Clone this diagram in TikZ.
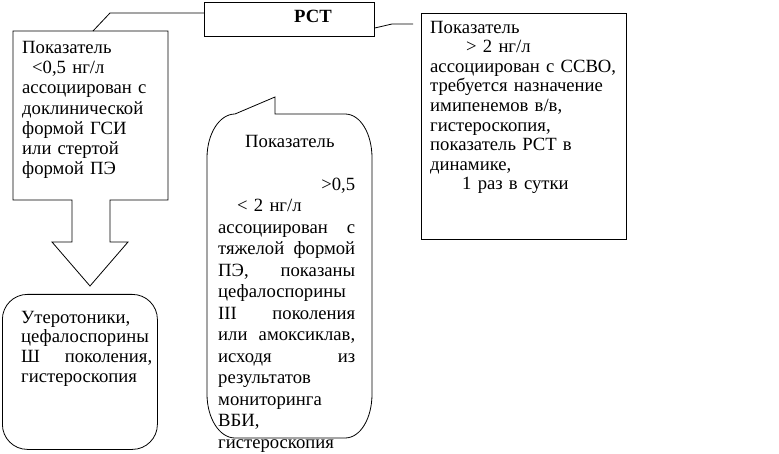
\documentclass[tikz,border=0pt]{standalone}
\usepackage{fontspec}
\setmainfont{Liberation Serif}
\newcommand\fstrut{\rule{0pt}{15pt}}
\newcommand\twoj[2]{\leavevmode\hbox to\linewidth{#1\hfill#2}}
\tikzset{
  outline/.style={draw=black, line width=0.8pt},
  conn/.style={draw=black, line width=0.8pt},
  txt/.style={inner sep=0pt, anchor=north west, align=left},
}
\begin{document}
\begin{tikzpicture}[x=1pt,y=-1pt]
\useasboundingbox[fill=white] (0,0) rectangle (779,454);

% PCT box
\node[outline, minimum width=170pt, minimum height=34pt, inner sep=0pt, anchor=north west] (pct) at (204,2) {};
\node[inner sep=0pt, anchor=base, font=\bfseries\fontsize{18.67}{20}\selectfont] (pcttxt) at (313,23) {РСТ};

% left callout box with down arrow
\coordinate (lnw) at (13,31);
\coordinate (lne) at (168,31);
\coordinate (ltip) at (90,286);
\draw[outline] (lnw) -- (lne) -- (168,200) -- (110,200) -- (110,242) -- (128,242) -- (ltip)
  -- (52,242) -- (72,242) -- (72,200) -- (13,200) -- cycle;

% connectors
\coordinate (lc1) at (110,13);
\coordinate (lc2) at (93,31);
\draw[conn] (pct.west |- lc1) -- (lc1) -- (lc2);
\coordinate (rc0) at (374,28);
\coordinate (rc1) at (392,24);
\coordinate (rc2) at (413,24);
\draw[conn] (pct.east |- rc0) -- (rc1) -- (rc2);

% right box
\node[outline, minimum width=205pt, minimum height=226pt, inner sep=0pt, anchor=north west] (rbox) at (421,13) {};

% bottom-left rounded box
\node[outline, rounded corners=25pt, minimum width=155pt, minimum height=155pt, inner sep=0pt, anchor=north west] (bbox) at (2,294) {};

% middle rounded callout
\coordinate (mtip) at (275,97);
\draw[outline] (mtip) -- (275,114) -- (345,114)
  .. controls (360.5,114) and (372,133.7) .. (372,158)
  -- (372,394)
  .. controls (372,418.3) and (360.5,438) .. (345,438)
  -- (235,438)
  .. controls (219.5,438) and (207,418.3) .. (207,394)
  -- (207,158)
  .. controls (207,133.7) and (219.5,114) .. (235,114)
  -- cycle;

% texts
\node[txt, text width=146pt, font=\fontsize{18.67}{20.3}\selectfont] (ltxt) at (22,38)
 {\fstrut Показатель\\
  \hspace*{10pt}<0,5 нг/л\\
  ассоциирован с\\
  доклинической\\
  формой ГСИ\\
  или стертой\\
  формой ПЭ};

\node[txt, text width=195pt, font=\fontsize{18.67}{19.6}\selectfont] (rtxt) at (430,18)
 {\fstrut Показатель\\
  \hspace*{36pt}> 2 нг/л\\
  ассоциирован с ССВО,\\
  требуется назначение\\
  имипенемов в/в,\\
  гистероскопия,\\
  показатель РСТ в\\
  динамике,\\
  \hspace*{32pt}1 раз в сутки};

\node[txt, text width=131pt, font=\fontsize{18.67}{19.7}\selectfont] (btxt) at (21,308)
 {\fstrut Утеротоники,\\
  цефалоспорины\\
  \twoj{Ш}{поколения,}\\
  гистероскопия};

\node[txt, text width=137pt, font=\fontsize{18.67}{21.5}\selectfont] (mtxt) at (218,132)
 {\fstrut\hspace*{27pt}Показатель\\
  \mbox{}\\
  \makebox[\linewidth][r]{>0,5}\\
  \hspace*{19pt}< 2 нг/л\\
  \twoj{ассоциирован}{с}\\
  \twoj{тяжелой}{формой}\\
  \twoj{ПЭ,}{показаны}\\
  цефалоспорины\\
  \twoj{III}{поколения}\\
  \twoj{или}{амоксиклав,}\\
  \twoj{исходя}{из}\\
  результатов\\
  мониторинга\\
  ВБИ,\\
  гистероскопия};
\end{tikzpicture}
\end{document}
